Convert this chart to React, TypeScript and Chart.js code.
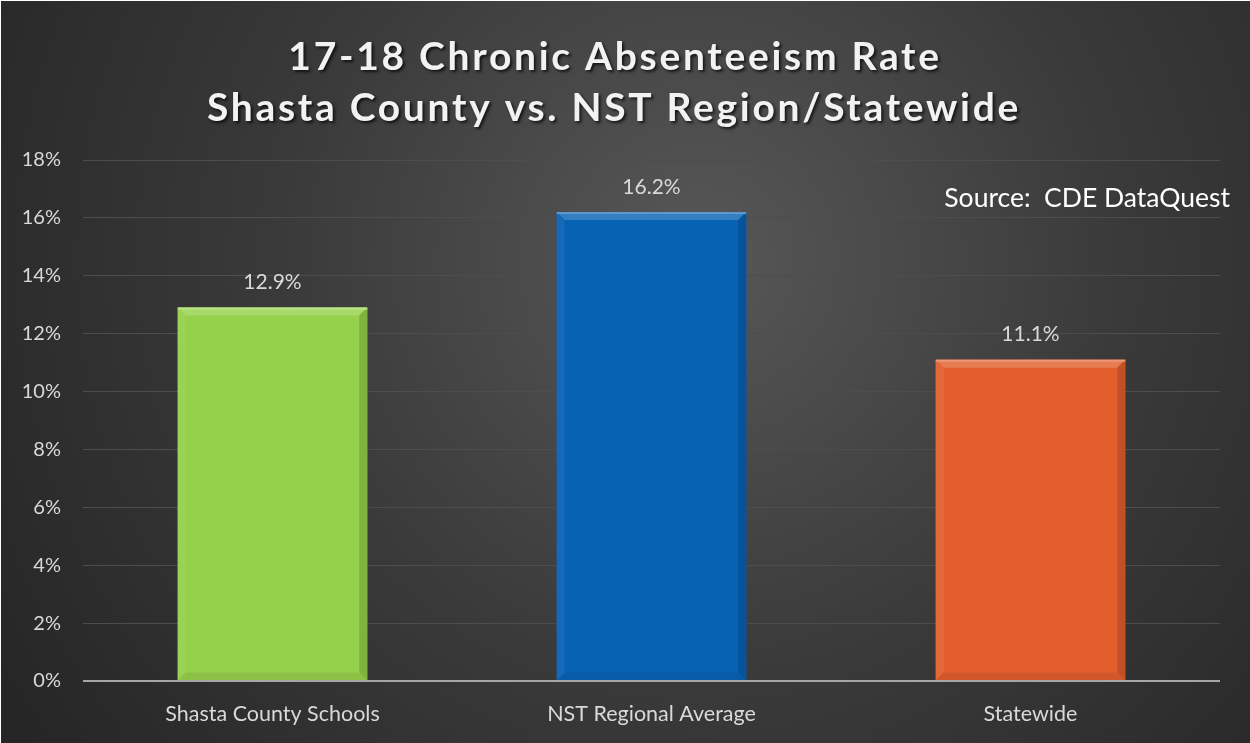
import React, { useEffect, useRef } from "react";
import { Chart, registerables } from "chart.js";

Chart.register(...registerables);

const categories = ["Shasta County Schools", "NST Regional Average", "Statewide"];
const rates = [12.9, 16.2, 11.1];
const barColors = ["#95d14a", "#0862b4", "#e25f2d"];
const titleLines = ["17-18 Chronic Absenteeism Rate", "Shasta County vs. NST Region/Statewide"];
const sourceNote = "Source:  CDE DataQuest";
const yMax = 18;
const yStep = 2;

const FONT = "Lato, 'Open Sans', sans-serif";

function shade(hex: string, amt: number): string {
  const n = parseInt(hex.slice(1), 16);
  let r = (n >> 16) & 255, g = (n >> 8) & 255, b = n & 255;
  const f = (c: number) => amt >= 0 ? Math.round(c + (255 - c) * amt) : Math.round(c * (1 + amt));
  r = f(r); g = f(g); b = f(b);
  return `rgb(${r},${g},${b})`;
}

const backgroundPlugin = {
  id: "bgPlugin",
  beforeDraw(chart: any) {
    const { ctx, width, height } = chart;
    ctx.save();
    ctx.fillStyle = "#ffffff";
    ctx.fillRect(0, 0, width, height);
    const g = ctx.createRadialGradient(700, 260, 20, 700, 260, 900);
    g.addColorStop(0, "#565656");
    g.addColorStop(0.45, "#3a3a3a");
    g.addColorStop(1, "#222222");
    ctx.fillStyle = g;
    ctx.fillRect(1, 1, width - 1, height - 1);
    ctx.restore();
  },
};

const decorPlugin = {
  id: "decorPlugin",
  afterDatasetsDraw(chart: any) {
    const { ctx } = chart;
    const meta = chart.getDatasetMeta(0);
    ctx.save();
    meta.data.forEach((bar: any, i: number) => {
      const x0 = bar.x - bar.width / 2;
      const x1 = bar.x + bar.width / 2;
      const y0 = bar.y;
      const y1 = bar.base;
      const b = 8;
      const col = barColors[i];
      ctx.fillStyle = shade(col, 0.18);
      ctx.beginPath();
      ctx.moveTo(x0, y0); ctx.lineTo(x1, y0); ctx.lineTo(x1 - b, y0 + b); ctx.lineTo(x0 + b, y0 + b); ctx.closePath();
      ctx.fill();
      ctx.fillStyle = shade(col, 0.05);
      ctx.beginPath();
      ctx.moveTo(x0, y0); ctx.lineTo(x0 + b, y0 + b); ctx.lineTo(x0 + b, y1 - b); ctx.lineTo(x0, y1); ctx.closePath();
      ctx.fill();
      ctx.fillStyle = shade(col, -0.15);
      ctx.beginPath();
      ctx.moveTo(x1, y0); ctx.lineTo(x1 - b, y0 + b); ctx.lineTo(x1 - b, y1 - b); ctx.lineTo(x1, y1); ctx.closePath();
      ctx.fill();
      ctx.fillStyle = shade(col, -0.07);
      ctx.beginPath();
      ctx.moveTo(x0, y1); ctx.lineTo(x0 + b, y1 - b); ctx.lineTo(x1 - b, y1 - b); ctx.lineTo(x1, y1); ctx.closePath();
      ctx.fill();
      ctx.fillStyle = shade(col, 0.35);
      ctx.fillRect(x0, y0, bar.width, 2);
      ctx.fillStyle = "#d9d9d9";
      ctx.font = `21px ${FONT}`;
      ctx.textAlign = "center";
      ctx.textBaseline = "middle";
      ctx.fillText(rates[i].toFixed(1) + "%", bar.x, y0 - 25);
    });
    const area = chart.chartArea;
    const yScale = chart.scales.y;
    const yb = yScale.getPixelForValue(0);
    ctx.fillStyle = "#a6a6a6";
    ctx.fillRect(area.left, yb - 1, area.right - area.left, 2);
    ctx.restore();
  },
  afterDraw(chart: any) {
    const { ctx } = chart;
    ctx.save();
    ctx.textAlign = "center";
    ctx.textBaseline = "alphabetic";
    ctx.font = `bold 39px ${FONT}`;
    (ctx as any).letterSpacing = "2.7px";
    ctx.shadowColor = "rgba(0,0,0,0.7)";
    ctx.shadowOffsetX = 2;
    ctx.shadowOffsetY = 2;
    ctx.shadowBlur = 3;
    ctx.fillStyle = "#f2f2f2";
    ctx.fillText(titleLines[0], 615, 70);
    ctx.fillText(titleLines[1], 614, 121);
    ctx.restore();
    ctx.save();
    ctx.font = `26.5px ${FONT}`;
    ctx.fillStyle = "#ffffff";
    ctx.textAlign = "right";
    ctx.textBaseline = "middle";
    ctx.fillText(sourceNote, 1230, 198);
    ctx.restore();
  },
};

export default function App() {
  const ref = useRef<HTMLCanvasElement | null>(null);
  useEffect(() => {
    document.body.style.margin = "0";
    const canvas = ref.current!;
    const chart = new Chart(canvas, {
      type: "bar",
      data: {
        labels: categories,
        datasets: [
          {
            data: rates,
            backgroundColor: barColors,
            borderWidth: 0,
            categoryPercentage: 1,
            barPercentage: 0.5,
          },
        ],
      },
      options: {
        animation: false,
        responsive: false,
        devicePixelRatio: 1,
        layout: { padding: { top: 160, right: 30, left: 0, bottom: 0 } },
        plugins: {
          legend: { display: false },
          title: { display: false },
          tooltip: { enabled: false },
        },
        scales: {
          x: {
            grid: { display: false, drawTicks: false },
            border: { display: false },
            ticks: { color: "#d9d9d9", font: { family: FONT, size: 21.5 }, padding: 20, maxRotation: 0 },
            afterFit(scale: any) { scale.height = 62; },
          },
          y: {
            min: 0,
            max: yMax,
            grid: { color: "#4d4d4d", lineWidth: 1, drawTicks: false },
            border: { display: false },
            ticks: {
              stepSize: yStep,
              color: "#d9d9d9",
              font: { family: FONT, size: 20 },
              padding: 22,
              callback: (v: any) => v + "%",
            },
            afterFit(scale: any) { scale.width = 83; },
          },
        },
      },
      plugins: [backgroundPlugin, decorPlugin],
    });
    return () => chart.destroy();
  }, []);
  return (
    <div style={{ position: "absolute", left: 0, top: 0, width: 1250, height: 743 }}>
      <canvas ref={ref} width={1250} height={743} style={{ width: 1250, height: 743 }} />
    </div>
  );
}
